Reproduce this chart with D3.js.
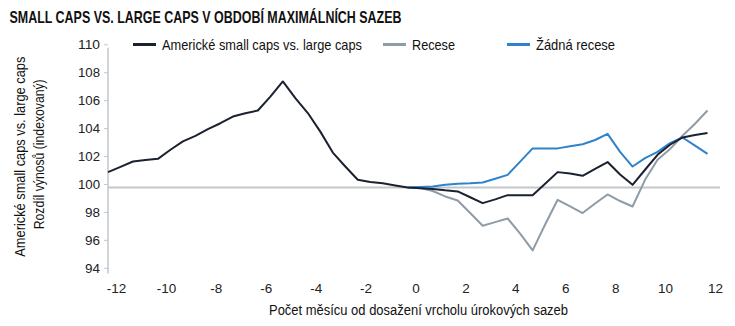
<!DOCTYPE html>
<html>
<head>
<meta charset="utf-8">
<script src="https://cdn.jsdelivr.net/npm/d3@7"></script>
<style>
html,body{margin:0;padding:0;background:#fff;}
svg{display:block;}
text{font-family:"Liberation Sans",Arial,sans-serif;}
</style>
</head>
<body>
<svg id="chart" width="735" height="326"></svg>
<script>
// ---- data ----
const monthsAll = [-12.5,-12,-11.5,-11,-10.5,-10,-9.5,-9,-8.5,-8,-7.5,-7,-6.5,-6,-5.5,-5,-4.5,-4,-3.5,-3,-2.5,-2,-1.5,-1,-0.5,
  0,0.5,1,1.5,2,2.5,3,3.5,4,4.5,5,5.5,6,6.5,7,7.5,8,8.5,9,9.5,10,10.5,11,11.5];
const monthsAfter = [-0.5,0,0.5,1,1.5,2,2.5,3,3.5,4,4.5,5,5.5,6,6.5,7,7.5,8,8.5,9,9.5,10,10.5,11,11.5];
const smallVsLarge = [101.1,101.48,101.86,101.96,102.05,102.7,103.3,103.7,104.18,104.6,105.08,105.32,105.51,106.5,107.59,106.4,105.33,104.0,102.5,101.5,100.55,100.4,100.3,100.15,
  100.0,99.95,99.9,99.8,99.72,99.3,98.88,99.15,99.45,99.45,99.45,100.26,101.1,101.0,100.84,101.34,101.82,100.93,100.19,101.27,102.34,103.06,103.58,103.75,103.9];
const recession = [100.0,99.97,99.75,99.36,99.07,98.17,97.26,97.52,97.78,96.69,95.5,97.35,99.12,98.64,98.17,98.85,99.5,99.03,98.64,100.55,101.98,102.75,103.7,104.56,105.51];
const noRecession = [100.0,100.03,100.07,100.19,100.26,100.3,100.36,100.62,100.9,101.85,102.8,102.8,102.8,102.95,103.1,103.4,103.84,102.55,101.5,102.1,102.55,103.18,103.58,103.0,102.41];
const xTicks = [-12,-10,-8,-6,-4,-2,0,2,4,6,8,10,12];
const yTicks = [94,96,98,100,102,104,106,108,110];
const seriesNames = ["Americké small caps vs. large caps","Recese","Žádná recese"];
const titleText = "SMALL CAPS VS. LARGE CAPS V OBDOBÍ MAXIMÁLNÍCH SAZEB";
const xTitle = "Počet měsícu od dosažení vrcholu úrokových sazeb";
const yTitle1 = "Americké small caps vs. large caps";
const yTitle2 = "Rozdíl výnosů (indexovaný)";

// ---- layout ----
const svg = d3.select("#chart");
const colors = ["#1b2130","#8e9ca8","#2f82cc"];
const x = d3.scaleLinear().domain([-12.5, 11.5]).range([108, 707.5]);
const xLab = d3.scaleLinear().domain([-12, 12]).range([116, 715]);
const y = d3.scaleLinear().domain([94, 110]).range([271.3, 47.8]);
const fmt = d => String(d);

// title
svg.append("text").attr("x", 9.5).attr("y", 23.3)
  .attr("font-size", 16.3).attr("font-weight", "bold").attr("fill", "#111")
  .attr("textLength", 392).attr("lengthAdjust", "spacingAndGlyphs")
  .text(titleText);

// y axis
const yAxis = d3.axisLeft(y).tickValues(yTicks).tickSize(4).tickPadding(4).tickFormat(fmt);
const gy = svg.append("g").attr("transform", "translate(108,0)").call(yAxis);
gy.select(".domain").attr("stroke", "#c3c6ca").attr("stroke-width", 1.5).attr("d", `M0,${y(110)}V273.5`);
gy.selectAll(".tick").attr("transform", d => `translate(0,${y(d) - 3})`);
gy.selectAll(".tick line").attr("stroke", "#c3c6ca");
gy.selectAll(".tick text").attr("font-size", 13.5).attr("fill", "#222")
  .attr("font-family", '"Liberation Sans",Arial,sans-serif')
  .attr("textLength", 22).attr("lengthAdjust", "spacingAndGlyphs");
gy.selectAll(".tick text").filter(d => d < 100).attr("textLength", 15);

// baseline at 100
svg.append("line").attr("x1", 108).attr("x2", 720).attr("y1", y(100)).attr("y2", y(100))
  .attr("stroke", "#c3c6ca").attr("stroke-width", 2);

// x axis labels
const xAxis = d3.axisBottom(xLab).tickValues(xTicks).tickSize(0).tickPadding(0).tickFormat(fmt);
const gx = svg.append("g").attr("transform", "translate(0,283)").call(xAxis);
gx.select(".domain").remove();
gx.selectAll(".tick text").attr("font-size", 13.5).attr("fill", "#222")
  .attr("font-family", '"Liberation Sans",Arial,sans-serif').attr("dy", "0.71em");

// lines
const line = d3.line().x(d => x(d[0])).y(d => y(d[1]));
const data = [
  monthsAll.map((m, i) => [m, smallVsLarge[i]]),
  monthsAfter.map((m, i) => [m, recession[i]]),
  monthsAfter.map((m, i) => [m, noRecession[i]])
];
[1, 2, 0].forEach(i => {
  svg.append("path").datum(data[i]).attr("d", line)
    .attr("fill", "none").attr("stroke", colors[i]).attr("stroke-width", 2)
    .attr("stroke-linejoin", "round");
});

// legend
const legendX = [133, 383, 507];
const legendW = [200, 43, 79];
seriesNames.forEach((n, i) => {
  svg.append("line").attr("x1", legendX[i]).attr("x2", legendX[i] + 23).attr("y1", 44.5).attr("y2", 44.5)
    .attr("stroke", colors[i]).attr("stroke-width", 3);
  svg.append("text").attr("x", legendX[i] + 29).attr("y", 50)
    .attr("font-size", 14.5).attr("fill", "#111")
    .attr("textLength", legendW[i]).attr("lengthAdjust", "spacingAndGlyphs")
    .text(n);
});

// axis titles
svg.append("text").attr("x", 418.5).attr("y", 315).attr("text-anchor", "middle")
  .attr("font-size", 14).attr("fill", "#111")
  .attr("textLength", 299).attr("lengthAdjust", "spacingAndGlyphs").text(xTitle);
svg.append("text").attr("transform", "translate(25,156.7) rotate(-90)").attr("text-anchor", "middle")
  .attr("font-size", 14).attr("fill", "#111")
  .attr("textLength", 200).attr("lengthAdjust", "spacingAndGlyphs").text(yTitle1);
svg.append("text").attr("transform", "translate(43.5,154.3) rotate(-90)").attr("text-anchor", "middle")
  .attr("font-size", 14).attr("fill", "#111")
  .attr("textLength", 150).attr("lengthAdjust", "spacingAndGlyphs").text(yTitle2);
</script>
</body>
</html>
